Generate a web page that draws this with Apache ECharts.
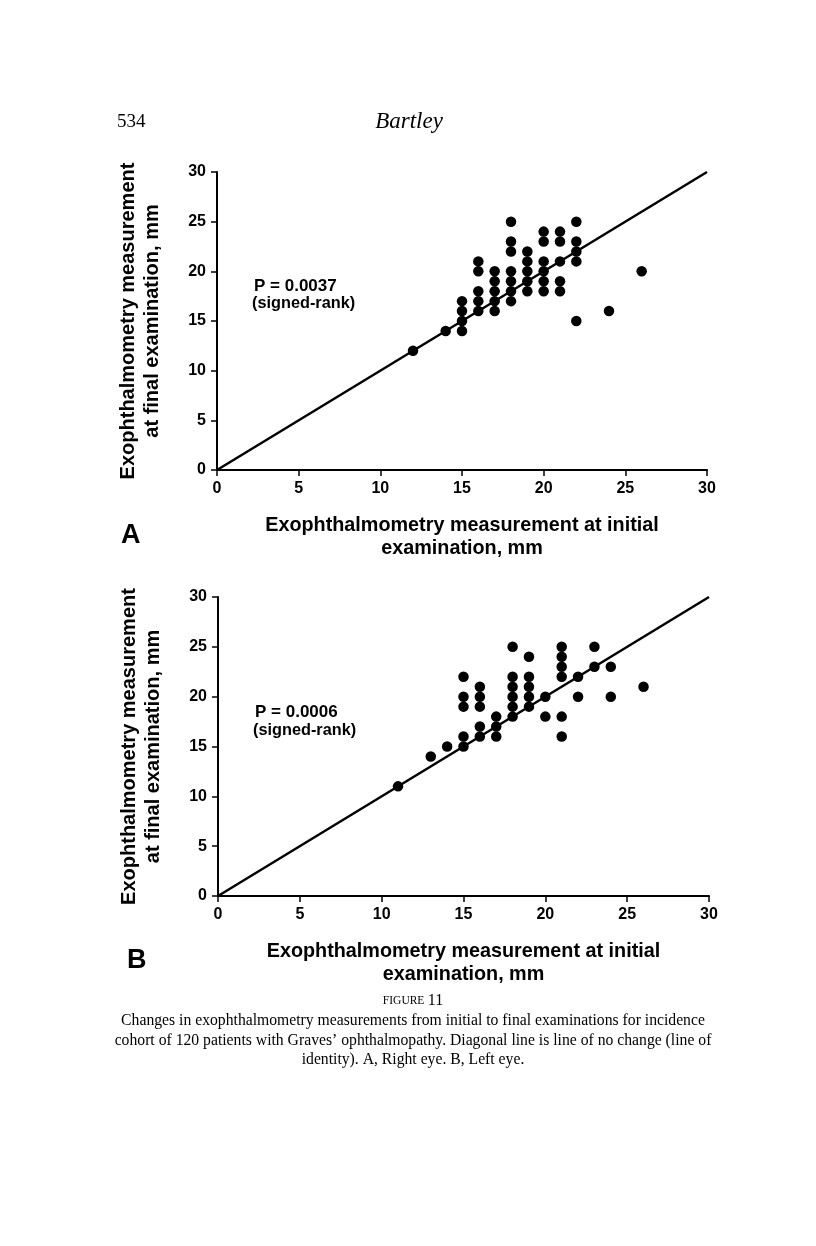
<!DOCTYPE html>
<html>
<head>
<meta charset="utf-8">
<script src="https://cdn.jsdelivr.net/npm/echarts@6/dist/echarts.min.js"></script>
<style>
  html, body { margin: 0; padding: 0; background: #fff; }
  #chart { width: 816px; height: 1246px; }
</style>
</head>
<body>
<div id="chart"></div>
<script>
// ---- Data ----
const axisTicks = [0, 5, 10, 15, 20, 25, 30];

// Panel A: right eye
const rightInitial = [12, 14, 15, 15, 15, 15, 16, 16, 16, 16, 16, 17, 17, 17, 17, 17,
  18, 18, 18, 18, 18, 18, 18, 19, 19, 19, 19, 19, 20, 20, 20, 20, 20, 20,
  21, 21, 21, 21, 21, 22, 22, 22, 22, 22, 24, 26];
const rightFinal = [12, 14, 17, 16, 15, 14, 21, 20, 18, 17, 16, 20, 19, 18, 17, 16,
  25, 23, 22, 20, 19, 18, 17, 22, 21, 20, 19, 18, 24, 23, 21, 20, 19, 18,
  24, 23, 21, 19, 18, 25, 23, 22, 21, 15, 16, 20];

// Panel B: left eye
const leftInitial = [11, 13, 14, 15, 15, 15, 15, 15, 16, 16, 16, 16, 16, 17, 17, 17,
  18, 18, 18, 18, 18, 18, 19, 19, 19, 19, 19, 20, 20, 21, 21, 21, 21, 21, 21,
  22, 22, 23, 23, 24, 24, 26];
const leftFinal = [11, 14, 15, 22, 20, 19, 16, 15, 21, 20, 19, 17, 16, 18, 17, 16,
  25, 22, 21, 20, 19, 18, 24, 22, 21, 20, 19, 20, 18, 25, 24, 23, 22, 18, 16,
  22, 20, 25, 23, 23, 20, 21];

// Line of identity
const identityLine = [[0, 0], [30, 30]];

const pValueA = 'P = 0.0037';
const pValueB = 'P = 0.0006';
const testName = '(signed-rank)';

const xTitle = 'Exophthalmometry measurement at initial\nexamination, mm';
const yTitle = 'Exophthalmometry measurement\nat final examination, mm';

const captionHead = 'FIGURE';
const captionNum = '11';
const captionLines = [
  'Changes in exophthalmometry measurements from initial to final examinations for incidence',
  'cohort of 120 patients with Graves\u2019 ophthalmopathy. Diagonal line is line of no change (line of',
  'identity). A, Right eye. B, Left eye.'
];

// ---- Chart ----
const SANS = '"Liberation Sans", Arial, Helvetica, sans-serif';
const SERIF = '"Liberation Serif", "Times New Roman", serif';

function zip(a, b) { return a.map((v, i) => [v, b[i]]); }

function xAxisCfg(grid) {
  return {
    gridIndex: grid, type: 'value', min: axisTicks[0], max: axisTicks[axisTicks.length - 1],
    interval: axisTicks[1] - axisTicks[0],
    axisLine: { show: true, onZero: false, lineStyle: { color: '#000', width: 2 } },
    axisTick: { show: true, length: 6, lineStyle: { color: '#000', width: 1.5 } },
    axisLabel: { color: '#000', fontSize: 16, fontWeight: 'bold', fontFamily: SANS, margin: 11 },
    splitLine: { show: false },
    name: xTitle, nameLocation: 'middle', nameGap: 44,
    nameTextStyle: { color: '#000', fontSize: 19.8, fontWeight: 'bold', fontFamily: SANS, lineHeight: 23 }
  };
}
function yAxisCfg(grid) {
  return {
    gridIndex: grid, type: 'value', min: axisTicks[0], max: axisTicks[axisTicks.length - 1],
    interval: axisTicks[1] - axisTicks[0],
    axisLine: { show: true, onZero: false, lineStyle: { color: '#000', width: 2 } },
    axisTick: { show: true, length: 6, lineStyle: { color: '#000', width: 1.5 } },
    axisLabel: { color: '#000', fontSize: 16, fontWeight: 'bold', fontFamily: SANS, margin: 11 },
    splitLine: { show: false },
    name: yTitle, nameLocation: 'middle', nameGap: 53, nameRotate: 90,
    nameTextStyle: { color: '#000', fontSize: 20, fontWeight: 'bold', fontFamily: SANS, lineHeight: 24 }
  };
}

const chart = echarts.init(document.getElementById('chart'), null, { renderer: 'canvas' });

const dotStyle = { color: '#000', opacity: 1 };

const option = {
  backgroundColor: '#fff',
  animation: false,
  grid: [
    { left: 217, top: 172, width: 490, height: 298 },
    { left: 218, top: 597, width: 491, height: 299 }
  ],
  xAxis: [xAxisCfg(0), xAxisCfg(1)],
  yAxis: [yAxisCfg(0), yAxisCfg(1)],
  series: [
    { type: 'line', xAxisIndex: 0, yAxisIndex: 0, data: identityLine, symbol: 'none', silent: true,
      lineStyle: { color: '#000', width: 2.5 }, z: 1 },
    { type: 'scatter', xAxisIndex: 0, yAxisIndex: 0, data: zip(rightInitial, rightFinal),
      symbol: 'circle', symbolSize: 10.5, itemStyle: dotStyle, z: 2 },
    { type: 'line', xAxisIndex: 1, yAxisIndex: 1, data: identityLine, symbol: 'none', silent: true,
      lineStyle: { color: '#000', width: 2.5 }, z: 1 },
    { type: 'scatter', xAxisIndex: 1, yAxisIndex: 1, data: zip(leftInitial, leftFinal),
      symbol: 'circle', symbolSize: 10.5, itemStyle: dotStyle, z: 2 }
  ],
  graphic: [
    { type: 'text', x: 117, y: 122, style: { text: '534', fill: '#000', font: '19px ' + SERIF, textVerticalAlign: 'middle' } },
    { type: 'text', x: 409, y: 122, style: { text: 'Bartley', fill: '#000', font: 'italic 23px ' + SERIF, textAlign: 'center', textVerticalAlign: 'middle' } },

    { type: 'text', x: 254, y: 286, style: { text: pValueA, fill: '#000', font: 'bold 17px ' + SANS, textVerticalAlign: 'middle' } },
    { type: 'text', x: 252, y: 304, style: { text: testName, fill: '#000', font: 'bold 16.3px ' + SANS, textVerticalAlign: 'middle' } },
    { type: 'text', x: 255, y: 712, style: { text: pValueB, fill: '#000', font: 'bold 17px ' + SANS, textVerticalAlign: 'middle' } },
    { type: 'text', x: 253, y: 731, style: { text: testName, fill: '#000', font: 'bold 16.3px ' + SANS, textVerticalAlign: 'middle' } },

    { type: 'text', x: 121, y: 536, style: { text: 'A', fill: '#000', font: 'bold 27px ' + SANS, textVerticalAlign: 'middle' } },
    { type: 'text', x: 127, y: 961, style: { text: 'B', fill: '#000', font: 'bold 27px ' + SANS, textVerticalAlign: 'middle' } },

    { type: 'text', x: 413, y: 1001, style: {
        text: '{sc|' + captionHead + '} {n|' + captionNum + '}',
        textAlign: 'center', textVerticalAlign: 'middle',
        rich: {
          sc: { fontSize: 11.5, fontFamily: SERIF, fill: '#000', color: '#000' },
          n: { fontSize: 16, fontFamily: SERIF, fill: '#000', color: '#000' }
        }
    } },
    { type: 'text', x: 413, y: 1021, style: { text: captionLines[0], fill: '#000', font: '15.7px ' + SERIF, textAlign: 'center', textVerticalAlign: 'middle' } },
    { type: 'text', x: 413, y: 1041, style: { text: captionLines[1], fill: '#000', font: '15.7px ' + SERIF, textAlign: 'center', textVerticalAlign: 'middle' } },
    { type: 'text', x: 413, y: 1060, style: { text: captionLines[2], fill: '#000', font: '15.7px ' + SERIF, textAlign: 'center', textVerticalAlign: 'middle' } }
  ]
};
chart.setOption(option);
</script>
</body>
</html>
